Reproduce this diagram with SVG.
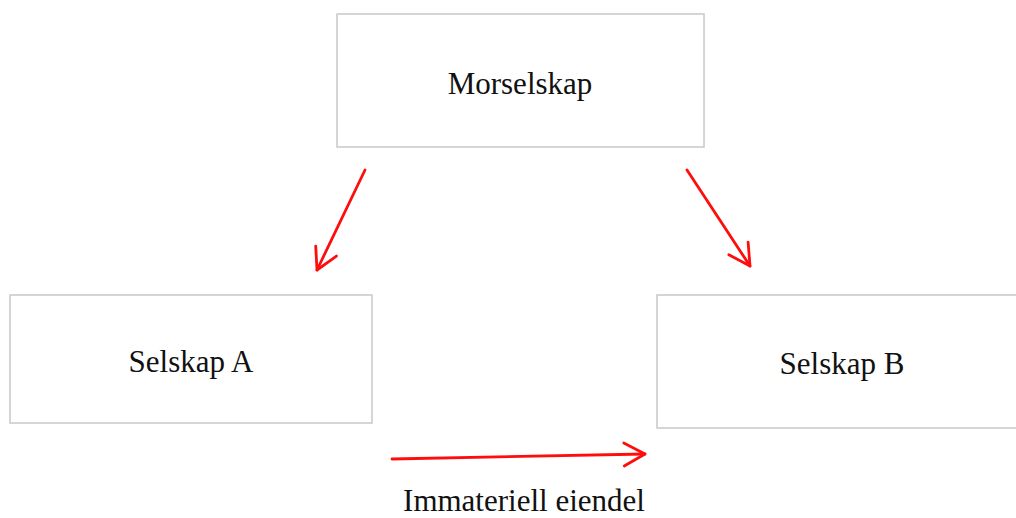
<svg xmlns="http://www.w3.org/2000/svg" width="1016" height="518" viewBox="0 0 1016 518">
<style>
.box{fill:#fff;stroke:#c8c8c8;stroke-width:1.5}
.lbl{font-family:"Liberation Serif","Times New Roman",serif;font-size:31px;fill:#111;text-anchor:middle}
.arr{fill:none;stroke:#ff0d0d;stroke-width:2.8;stroke-linecap:round;marker-end:url(#head)}
</style>
<defs>
<marker id="head" markerUnits="userSpaceOnUse" markerWidth="30" markerHeight="30" viewBox="-25 -15 30 30" refX="0" refY="0" orient="auto" overflow="visible">
<path d="M-21,-11.5 L0,0 L-21,11.5" fill="none" stroke="#ff0d0d" stroke-width="2.8" stroke-linecap="round" stroke-linejoin="round"/>
</marker>
</defs>
<rect width="1016" height="518" fill="#fff"/>
<g id="morselskap">
<rect class="box" x="337" y="14" width="367" height="133"/>
<text class="lbl" x="520" y="94">Morselskap</text>
</g>
<g id="selskap-a">
<rect class="box" x="10" y="295" width="362" height="128"/>
<text class="lbl" x="191" y="372">Selskap A</text>
</g>
<g id="selskap-b">
<rect class="box" x="657" y="295" width="380" height="133"/>
<text class="lbl" x="842" y="374">Selskap B</text>
</g>
<g id="connectors">
<line class="arr" x1="365" y1="170" x2="317" y2="270"/>
<line class="arr" x1="687" y1="170" x2="750" y2="266"/>
<line class="arr" x1="392" y1="459" x2="645" y2="454"/>
</g>
<g id="edge-label">
<text class="lbl" x="524" y="511">Immateriell eiendel</text>
</g>
</svg>
